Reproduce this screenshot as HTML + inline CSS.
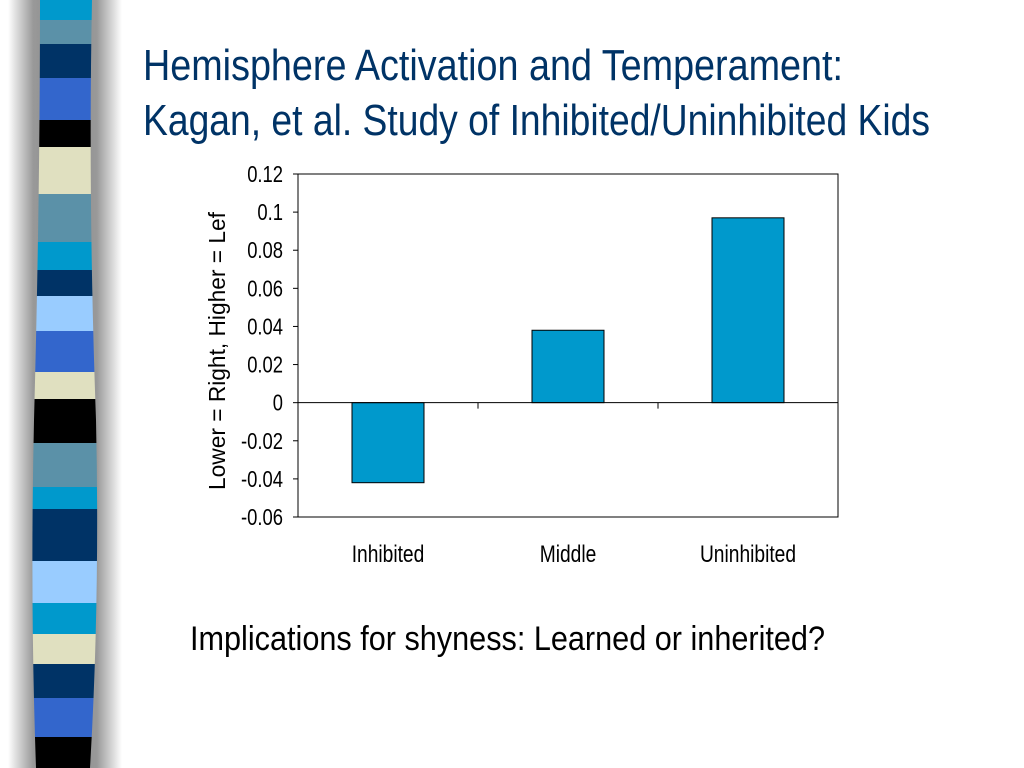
<!DOCTYPE html>
<html><head><meta charset="utf-8"><style>
body{margin:0;background:#fff;}
svg{display:block;font-family:"Liberation Sans",sans-serif;}
</style></head><body>
<svg width="1024" height="768" viewBox="0 0 1024 768">
<defs>
<linearGradient id="sh" x1="0" x2="1" y1="0" y2="0">
<stop offset="0" stop-color="#fff"/><stop offset="0.22" stop-color="#999"/><stop offset="0.5" stop-color="#888"/><stop offset="0.78" stop-color="#999"/><stop offset="1" stop-color="#fff"/>
</linearGradient>
<clipPath id="strip"><path d="M40 0 L92 0 Q88 200 96 420 Q100 600 90 768 L36 768 Q30 600 34 420 Q40 200 40 0 Z"/></clipPath>
</defs>
<rect x="8" y="0" width="114" height="768" fill="url(#sh)"/>
<g id="stripes" clip-path="url(#strip)"></g>
<text x="143" y="80" font-size="44" fill="#003366" textLength="700" lengthAdjust="spacingAndGlyphs">Hemisphere Activation and Temperament:</text>
<text x="143" y="135" font-size="44" fill="#003366" textLength="787" lengthAdjust="spacingAndGlyphs">Kagan, et al. Study of Inhibited/Uninhibited Kids</text>
<g id="chart"></g>
<text x="218" y="344" font-size="23" fill="#000" text-anchor="middle" transform="rotate(-90 225 344)" textLength="278" lengthAdjust="spacingAndGlyphs">Lower = Right, Higher = Lef</text>
<text x="190" y="650" font-size="34" fill="#000" textLength="635" lengthAdjust="spacingAndGlyphs">Implications for shyness:  Learned or inherited?</text>
</svg>
<script>
const categories=["Inhibited","Middle","Uninhibited"];
const values=[-0.042,0.038,0.097];
const ticks=[0.12,0.1,0.08,0.06,0.04,0.02,0,-0.02,-0.04,-0.06];
const tickLabels=["0.12","0.1","0.08","0.06","0.04","0.02","0","-0.02","-0.04","-0.06"];
const NS="http://www.w3.org/2000/svg";
function mk(t,a,p){const e=document.createElementNS(NS,t);for(const k in a)e.setAttribute(k,a[k]);p.appendChild(e);return e;}
function narrow(e){const w=e.getComputedTextLength();e.setAttribute('textLength',(w*0.8).toFixed(1));e.setAttribute('lengthAdjust','spacingAndGlyphs');}
const stripeBounds=[0,20,44,78,120,147,194,242,270,296,331,372,399,443,487,509,561,603,634,664,698,737,768];
const stripeColors=["#0099cc","#5b91a8","#003366","#3366cc","#000","#e0e0c0","#5b91a8","#0099cc","#003366","#99ccff","#3366cc","#e0e0c0","#000","#5b91a8","#0099cc","#003366","#99ccff","#0099cc","#e0e0c0","#003366","#3366cc","#000"];
const sg=document.getElementById('stripes');
for(let i=0;i<stripeColors.length;i++){const r=mk('rect',{x:20,y:stripeBounds[i],width:90,height:stripeBounds[i+1]-stripeBounds[i],fill:stripeColors[i]},sg);

}
const L=298,R=838,T=174,B=517,ymin=-0.06,ymax=0.12;
const y=v=>T+(ymax-v)/(ymax-ymin)*(B-T);
const band=(R-L)/categories.length;
const x=i=>L+band*i;
const g=document.getElementById('chart');
const frame=mk('rect',{x:L,y:T,width:R-L,height:B-T,fill:"#fff",stroke:"#000","stroke-width":1},g);


ticks.forEach((t,i)=>{
 const tk=mk('line',{x1:L-5,x2:L,y1:y(t),y2:y(t),stroke:"#000"},g);
 
 
 const lb=mk('text',{x:L-15,y:y(t)+8,"font-size":23,"text-anchor":"end"},g);lb.textContent=tickLabels[i];
 
 
 narrow(lb);
});
values.forEach((v,i)=>{
 const cx=x(i)+band/2,w=band*0.4;
 const b=mk('rect',{x:cx-w/2,y:Math.min(y(v),y(0)),width:w,height:Math.abs(y(v)-y(0)),fill:"#0099cc",stroke:"#000","stroke-width":1},g);
 
 
 const lb=mk('text',{x:cx,y:562,"font-size":24,"text-anchor":"middle"},g);lb.textContent=categories[i];
 
 
 narrow(lb);
});
const z=mk('line',{x1:L,x2:R,y1:y(0),y2:y(0),stroke:"#000"},g);


for(let i=1;i<=categories.length;i++){const t=mk('line',{x1:x(i),x2:x(i),y1:y(0),y2:y(0)+6,stroke:"#000"},g);
 
 }
</script>
</body></html>
